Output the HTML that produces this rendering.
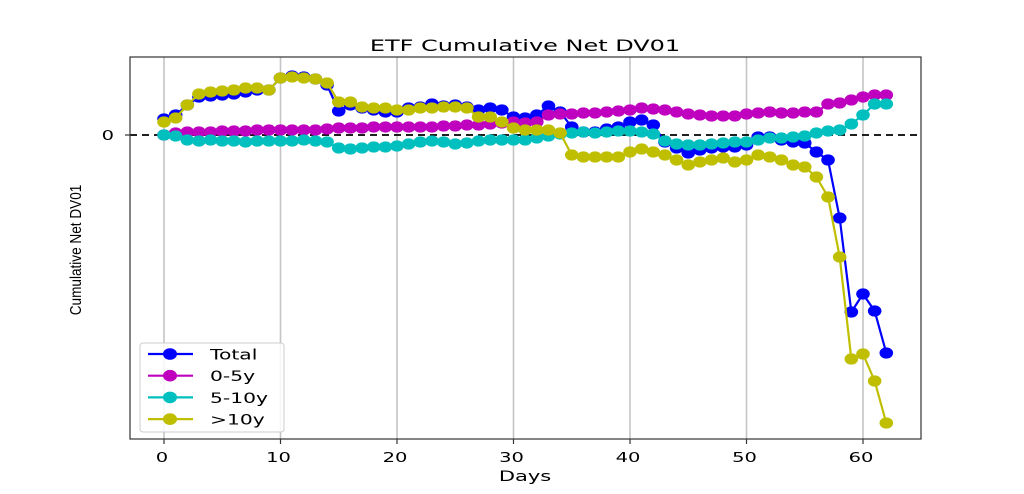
<!DOCTYPE html>
<html><head><meta charset="utf-8">
<style>body{margin:0;background:#fff;}svg{display:block;font-family:"DejaVu Sans","Liberation Sans",sans-serif;}</style>
</head><body>
<svg id="chart" width="1024" height="494">
<rect x="0" y="0" width="1024" height="494" fill="#fff"/>
<text transform="translate(525,51) scale(1.5,1)" text-anchor="middle" font-size="16">ETF Cumulative Net DV01</text>
<text transform="translate(81,250) rotate(-90) scale(0.85,1)" text-anchor="middle" font-family="Liberation Sans, sans-serif" font-size="16">Cumulative Net DV01</text>
<text transform="translate(525,481) scale(1.5,1)" text-anchor="middle" font-size="14">Days</text>
<g id="grid"></g>
<line x1="130" y1="135" x2="921" y2="135" stroke="#000" stroke-width="1.8" stroke-dasharray="7,5"/>
<g id="series"></g>
<rect x="130" y="57" width="791" height="382" fill="none" stroke="#333" stroke-width="1.2"/>
<g id="ticks"></g>
<g>
<rect x="140" y="343" width="144" height="89" rx="3" fill="#fff" fill-opacity="0.85" stroke="#ccc"/>
</g>
<g id="legend"></g>
</svg>
<script>
const days = Array.from({length:63},(_,i)=>i);
const xTicks = [0,10,20,30,40,50,60];
const yTicks = [0];
const totalVals = [16,20,30,38,39,40,41,43,45,45,57,59,58,56,50,24,30,27,25,23,23,27,28,31,29,30,28,25,27,25,18,17,20,29,23,8,3,3,6,8,13,15,10,-7,-13,-18,-15,-13,-12,-12,-10,-2,-2,-5,-7,-8,-17,-25,-83,-177,-159,-176,-218];
const shortVals = [0,2,3,3,3,4,4,4,5,5,5,5,5,5,6,7,7,7,8,8,8,8,8,8,9,9,10,10,11,12,13,12,13,20,21,21,22,22,23,24,25,27,26,25,23,21,20,19,19,19,21,22,23,22,22,23,23,31,32,35,38,40,40];
const midVals = [0,-1,-5,-6,-5,-6,-6,-7,-6,-6,-6,-6,-5,-6,-7,-13,-14,-13,-12,-12,-11,-9,-7,-6,-7,-9,-8,-6,-5,-5,-5,-5,-3,-1,1,2,3,2,3,4,4,3,1,-6,-9,-10,-10,-9,-8,-7,-7,-5,-3,-3,-2,-1,2,4,5,11,20,31,31];
const longVals = [13,17,30,41,43,44,45,47,47,45,57,58,57,56,52,33,33,28,27,27,25,25,27,27,28,28,27,18,18,13,7,5,5,5,2,-20,-22,-22,-22,-22,-17,-14,-17,-20,-25,-30,-27,-25,-23,-27,-25,-20,-22,-25,-30,-32,-42,-62,-122,-224,-219,-246,-288];
const seriesNames = ["Total","0-5y","5-10y",">10y"];
const NS = "http://www.w3.org/2000/svg";
const X0=164, XS=11.65, Y0=135, YS=1;
const xs = d => X0 + d*XS;
const ys = v => Y0 - v*YS;
function mk(tag, attrs, parent){const e=document.createElementNS(NS,tag);for(const k in attrs)e.setAttribute(k,attrs[k]);parent.appendChild(e);return e;}
const grid=document.getElementById('grid'), ticks=document.getElementById('ticks');
xTicks.forEach(t=>{
  const g=mk('line',{x1:xs(t),x2:xs(t),y1:57,y2:439,stroke:'#c4c4c4','stroke-width':1.6},grid);
  
  
  const tk=mk('line',{x1:xs(t),x2:xs(t),y1:439,y2:444,stroke:'#333','stroke-width':1.2},ticks);
  
  
  const tl=mk('text',{transform:'translate('+(xs(t)-2)+',462) scale(1.5,1)','text-anchor':'middle','font-size':13},ticks);
  tl.textContent=t;
  
  
});
yTicks.forEach(t=>{
  const tk=mk('line',{x1:125,x2:130,y1:ys(t),y2:ys(t),stroke:'#333','stroke-width':1.2},ticks);
  
  
  const tl=mk('text',{transform:'translate(114,'+(ys(t)+5)+') scale(1.5,1)','text-anchor':'end','font-size':13},ticks);
  tl.textContent=t;
  
  
});
const sg=document.getElementById('series');
const all=[[totalVals,'#0000ff','total'],[shortVals,'#bf00bf','short'],[midVals,'#00bfbf','mid'],[longVals,'#bfbf00','long']];
all.forEach(([vals,col,nm])=>{
  const g=mk('g',{},sg);
  
  
  const pl=mk('polyline',{points:vals.map((v,i)=>xs(days[i])+','+ys(v)).join(' '),fill:'none',stroke:col,'stroke-width':2.2},g);
  
  
  vals.forEach((v,i)=>{
    const c=mk('ellipse',{cx:xs(days[i]),cy:ys(v),rx:6.8,ry:5.6,fill:col},g);
    
    
  });
});
const lg=document.getElementById('legend');
all.forEach(([v,col,nm],i)=>{
  const y=354+i*21.7;
  const l=mk('line',{x1:148,x2:193,y1:y,y2:y,stroke:col,'stroke-width':2.2},lg);
  
  
  const c=mk('ellipse',{cx:170,cy:y,rx:7,ry:5.8,fill:col},lg);
  
  
  const t=mk('text',{transform:'translate(210,'+(y+5.5)+') scale(1.45,1)','font-size':14},lg);
  t.textContent=seriesNames[i];
  
  
});
</script>
</body></html>
